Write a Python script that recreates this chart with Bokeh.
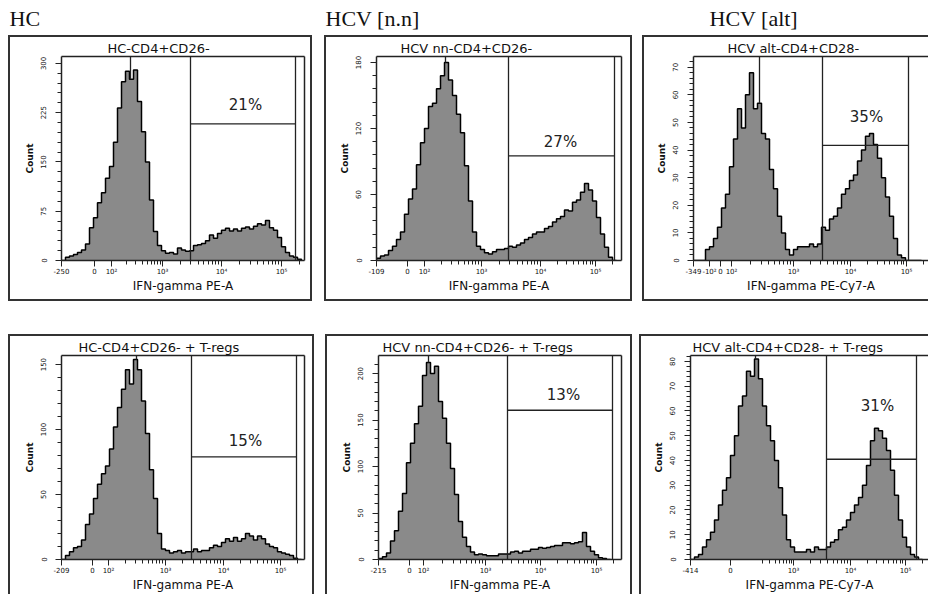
import numpy as np
from bokeh.plotting import figure
from bokeh.layouts import column, row
from bokeh.models import Range1d, FixedTicker, SingleIntervalTicker, LinearAxis, Span, Label, Spacer
from bokeh.core.properties import value
from bokeh.embed import file_html
from bokeh.resources import INLINE

# ---------------- data ----------------
group_titles = ["HC", "HCV [n.n]", "HCV [alt]"]

panel_titles = ["HC-CD4+CD26-", "HCV nn-CD4+CD26-", "HCV alt-CD4+CD28-",
                "HC-CD4+CD26- + T-regs", "HCV nn-CD4+CD26- + T-regs", "HCV alt-CD4+CD28- + T-regs"]
x_axis_labels = ["IFN-gamma PE-A", "IFN-gamma PE-A", "IFN-gamma PE-Cy7-A",
                 "IFN-gamma PE-A", "IFN-gamma PE-A", "IFN-gamma PE-Cy7-A"]

BIN_WIDTH = 4  # display channels per histogram bin

counts_hc = [0, 5, 7, 9, 12, 16, 25, 50, 65, 88,
             103, 125, 143, 180, 232, 272, 288, 276, 290, 242,
             196, 150, 92, 44, 23, 15, 11, 12, 10, 19,
             16, 14, 15, 23, 24, 26, 30, 39, 34, 41,
             46, 49, 45, 48, 45, 49, 51, 48, 52, 56,
             54, 61, 50, 46, 35, 21, 12, 7, 5, 2]
counts_hcv_nn = [2, 4, 5, 9, 13, 19, 26, 42, 56, 65,
                 87, 107, 120, 140, 143, 156, 168, 180, 164, 150,
                 133, 116, 86, 54, 26, 13, 10, 7, 6, 8,
                 10, 10, 11, 13, 12, 14, 16, 19, 21, 24,
                 26, 26, 29, 31, 35, 38, 40, 46, 45, 53,
                 55, 62, 70, 64, 54, 39, 24, 12, 3, 0]
counts_hcv_alt = [0, 0, 0, 4, 5, 8, 12, 19, 24, 34,
                  44, 55, 48, 60, 68, 55, 57, 46, 44, 33,
                  26, 16, 10, 4, 2, 4, 5, 5, 5, 6,
                  5, 6, 12, 11, 15, 16, 19, 24, 26, 29,
                  31, 36, 40, 45, 46, 42, 37, 30, 23, 16,
                  8, 2, 1, 0, 0, 0, 0]
counts_hc_treg = [0, 3, 6, 9, 10, 15, 27, 35, 47, 58,
                  66, 72, 85, 102, 117, 131, 146, 135, 154, 146,
                  122, 97, 69, 47, 20, 8, 7, 5, 6, 7,
                  5, 6, 6, 8, 6, 7, 7, 9, 11, 10,
                  13, 16, 14, 17, 14, 16, 20, 18, 15, 18,
                  16, 12, 10, 9, 6, 5, 4, 3, 1, 0]
counts_hcv_nn_treg = [1, 3, 7, 20, 31, 52, 71, 104, 125, 146,
                      165, 198, 212, 200, 208, 170, 152, 125, 98, 70,
                      41, 24, 14, 8, 5, 6, 5, 4, 4, 4,
                      6, 6, 6, 8, 9, 7, 9, 9, 11, 11,
                      13, 12, 13, 14, 15, 15, 18, 18, 17, 18,
                      19, 29, 14, 9, 5, 2, 1, 0]
counts_hcv_alt_treg = [0, 1, 2, 5, 8, 11, 16, 22, 28, 33,
                       42, 50, 62, 66, 76, 74, 81, 73, 62, 54,
                       48, 40, 29, 18, 8, 5, 3, 3, 3, 4,
                       3, 5, 4, 4, 5, 7, 8, 12, 13, 16,
                       19, 22, 25, 30, 38, 48, 53, 52, 49, 44,
                       36, 26, 16, 9, 5, 2, 1, 0]
panel_counts = [counts_hc, counts_hcv_nn, counts_hcv_alt,
                counts_hc_treg, counts_hcv_nn_treg, counts_hcv_alt_treg]

x_max = [243, 245, 235, 243, 243, 238]
y_max = [310.5, 185.4, 73.9, 157, 219.5, 82.4]
y_step = [75, 60, 10, 50, 50, 10]

x_tick_pos = [[0, 33, 50, 101, 160, 220],
              [0, 31, 48, 105, 164, 219],
              [0, 16, 27, 38, 100, 157, 213],
              [0, 31, 47, 104, 162, 219],
              [0, 31, 45, 107, 162, 218],
              [0, 40, 103, 160, 215]]
x_tick_labels = [["-250", "0", "10²", "10³", "10⁴", "10⁵"],
                 ["-109", "0", "10²", "10³", "10⁴", "10⁵"],
                 ["-349", "-10²", "0", "10²", "10³", "10⁴", "10⁵"],
                 ["-209", "0", "10²", "10³", "10⁴", "10⁵"],
                 ["-215", "0", "10²", "10³", "10⁴", "10⁵"],
                 ["-414", "0", "10³", "10⁴", "10⁵"]]
decade_pos = [[50, 101, 160, 220], [48, 105, 164, 219], [38, 100, 157, 213],
              [47, 104, 162, 219], [45, 107, 162, 218], [58, 103, 160, 215]]

gate_lo = [129, 132, 129, 130, 129, 136]
gate_hi = [234, 238, 215, 235, 234, 226]
gate_y = [208, 95, 41.7, 79, 160.6, 40.5]
gate_pct = ["21%", "27%", "35%", "15%", "13%", "31%"]
pct_x = [184, 184, 173, 184, 185, 187]
pct_y = [237, 107.5, 52, 91, 176.7, 62]
peak_x = [69, 69, 66, 75, 50, 65]

# ---------------- layout constants ----------------
canvas_w = [304, 308, 286, 306, 307, 289]
canvas_h = [266, 266, 266, 260, 260, 260]
border_l = [53, 52, 51, 53, 53, 51]
border_r = [8, 11, 0, 10, 11, 0]
border_t = [21, 21, 21, 21, 21, 21]
border_b = [38, 39, 41, 32, 34, 33]
title_off = [46, 24, 34, 17, 4, 2]
BOX = "#333333"
box_styles = [
    f"inset 0 0 0 2px {BOX}",
    f"inset 0 0 0 2px {BOX}",
    f"inset 2px 0 0 {BOX}, inset 0 2px 0 {BOX}, inset 0 -2px 0 {BOX}",
    f"inset 2px 0 0 {BOX}, inset -2px 0 0 {BOX}, inset 0 2px 0 {BOX}",
    f"inset 2px 0 0 {BOX}, inset -2px 0 0 {BOX}, inset 0 2px 0 {BOX}",
    f"inset 2px 0 0 {BOX}, inset 0 2px 0 {BOX}",
]
header_x = [9, 325, 709]
header_y = 18

LINE = "#222222"


def line_axis():
    return LinearAxis(ticker=FixedTicker(ticks=[]), major_tick_out=0, minor_tick_out=0,
                      major_tick_in=0, minor_tick_in=0, major_label_standoff=0,
                      major_label_text_font_size="0px", axis_line_color=LINE,
                      axis_line_width=1.5)


def make_panel(i):
    counts = np.array(panel_counts[i], dtype=float)
    edges = np.arange(len(counts) + 1) * BIN_WIDTH
    hx = np.concatenate([[edges[0]], np.repeat(edges, 2)[1:-1], [edges[-1]]])
    hy = np.concatenate([[0.0], np.repeat(counts, 2), [0.0]])

    p = figure(width=canvas_w[i], height=canvas_h[i],
               x_range=Range1d(0, x_max[i]), y_range=Range1d(0, y_max[i]),
               output_backend="svg", toolbar_location=None, title=panel_titles[i],
               min_border_left=border_l[i], min_border_right=border_r[i],
               min_border_top=border_t[i], min_border_bottom=border_b[i],
               border_fill_color=None, background_fill_color="white",
               outline_line_color=None, styles={"box-shadow": box_styles[i]})
    p.grid.visible = False

    p.title.text_font = "DejaVu Sans"
    p.title.text_font_size = "13px"
    p.title.text_font_style = "normal"
    p.title.text_color = "#111111"
    p.title.align = "left"
    p.title.offset = title_off[i]
    p.title.standoff = 1

    # x axis
    dec = decade_pos[i]
    minors = []
    for a, b in zip(dec[:-1], dec[1:]):
        minors += [a + (b - a) * np.log10(m) for m in range(2, 10)]
    minors += [dec[-1] + (dec[-1] - dec[-2]) * np.log10(m) for m in (2, 3)]
    minors = [float(m) for m in minors if m < x_max[i]]
    xa = p.xaxis[0]
    xa.ticker = FixedTicker(ticks=x_tick_pos[i], minor_ticks=minors)
    xa.major_label_overrides = {int(t): l for t, l in zip(x_tick_pos[i], x_tick_labels[i])}
    xa.axis_label = x_axis_labels[i]
    xa.axis_label_text_font = "DejaVu Sans"
    xa.axis_label_text_font_size = "12px"
    xa.axis_label_text_font_style = "normal"
    xa.axis_label_text_color = "#111111"
    xa.axis_label_standoff = 0
    xa.major_label_text_font = "DejaVu Sans"
    xa.major_label_text_font_size = "7px"
    xa.major_label_text_color = "#111111"
    xa.major_label_standoff = 1
    xa.major_tick_out = 6
    xa.major_tick_in = 0
    xa.minor_tick_out = 4
    xa.minor_tick_in = 0
    xa.axis_line_color = LINE
    xa.axis_line_width = 1.5
    xa.major_tick_line_color = LINE
    xa.minor_tick_line_color = LINE

    # y axis
    ya = p.yaxis[0]
    ya.ticker = SingleIntervalTicker(interval=y_step[i], num_minor_ticks=5)
    ya.major_label_orientation = "vertical"
    ya.axis_label = "Count"
    ya.axis_label_text_font = "DejaVu Sans"
    ya.axis_label_text_font_size = "9px"
    ya.axis_label_text_font_style = "bold"
    ya.axis_label_text_color = "#111111"
    ya.axis_label_standoff = 3
    ya.major_label_text_font = "DejaVu Sans"
    ya.major_label_text_font_size = "7px"
    ya.major_label_text_color = "#111111"
    ya.major_label_standoff = 9
    ya.major_tick_out = 6
    ya.major_tick_in = 0
    ya.minor_tick_out = 4
    ya.minor_tick_in = 0
    ya.axis_line_color = LINE
    ya.axis_line_width = 1.5
    ya.major_tick_line_color = LINE
    ya.minor_tick_line_color = LINE

    p.add_layout(line_axis(), "above")
    if border_r[i] > 0:
        p.add_layout(line_axis(), "right")

    # histogram
    p.patch(hx, hy, fill_color="#8a8a8a", line_color=None)
    p.line(hx, hy, line_color="black", line_width=1.5)

    # gate
    for loc in (gate_lo[i], gate_hi[i]):
        p.add_layout(Span(location=loc, dimension="height", line_color=LINE, line_width=1.3))
    p.segment(x0=[gate_lo[i]], y0=[gate_y[i]], x1=[gate_hi[i]], y1=[gate_y[i]],
              line_color=LINE, line_width=1.3)
    p.text(x=[pct_x[i]], y=[pct_y[i]], text=[gate_pct[i]], text_align="center",
           text_baseline="middle", text_font=value("DejaVu Sans"),
           text_font_size="15px", text_color="#222222")

    # peak marker
    peak_top = counts[int(peak_x[i] // BIN_WIDTH)]
    p.segment(x0=[peak_x[i]], y0=[peak_top], x1=[peak_x[i]], y1=[y_max[i]],
              line_color=LINE, line_width=1.3)
    return p


panels = [make_panel(i) for i in range(6)]

header = figure(width=928, height=35, x_range=Range1d(0, 928), y_range=Range1d(35, 0),
                output_backend="svg", toolbar_location=None, min_border=0,
                outline_line_color=None, x_axis_type=None, y_axis_type=None,
                border_fill_color=None, background_fill_color=None)
header.grid.visible = False
for t, x in zip(group_titles, header_x):
    header.add_layout(Label(x=x, y=header_y, text=t, text_font="Liberation Serif",
                            text_font_size="22px", text_baseline="middle",
                            text_color="#111111"))

row1 = row(Spacer(width=8, height=266), panels[0], Spacer(width=12, height=266), panels[1],
           Spacer(width=10, height=266), panels[2])
row2 = row(Spacer(width=8, height=260), panels[3], Spacer(width=11, height=260), panels[4],
           Spacer(width=7, height=260), panels[5])
layout = column(header, row1, Spacer(width=928, height=33), row2)

open("out.html", "w").write(file_html(layout, INLINE))
